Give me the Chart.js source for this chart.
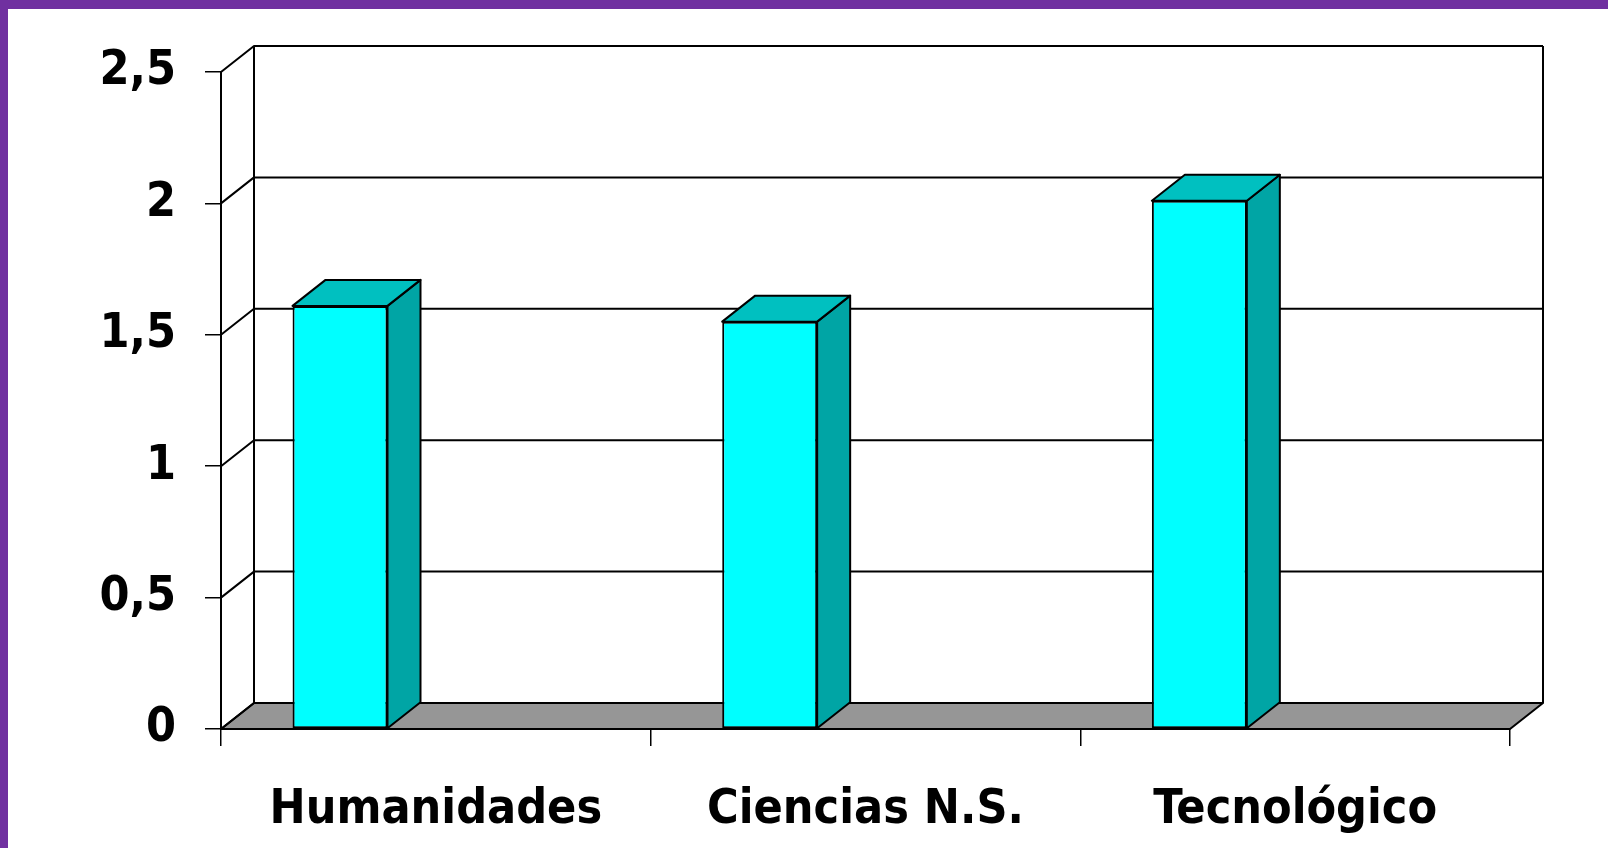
<!DOCTYPE html>
<html>
<head>
<meta charset="utf-8">
<script src="https://cdn.jsdelivr.net/npm/chart.js@4.4.0/dist/chart.umd.min.js"></script>
<style>
  html, body { margin: 0; padding: 0; background: #fff; }
  #frame {
    position: absolute; left: 0; top: 0; width: 1608px; height: 848px;
    box-sizing: border-box; background: #fff;
    border-left: 8px solid #7030a0; border-top: 9px solid #7030a0;
  }
  #chart { display: block; }
</style>
</head>
<body>
<div id="frame"><canvas id="chart" width="1600" height="839"></canvas></div>
<script>
var categories = ['Humanidades', 'Ciencias N.S.', 'Tecnológico'];
var values = [1.61, 1.55, 2.01];
var yTicks = [0, 0.5, 1, 1.5, 2, 2.5];

var colors = {
  front: '#00ffff',
  top: '#00c0c0',
  side: '#00a5a5',
  floor: '#969696',
  line: '#000000'
};
var depth = { x: 33, y: 26 };   // 3d offset of the back wall
var barShift = -0.223;          // bars sit left of the category centre (fraction of a category)

var chartFont = { family: "'DejaVu Sans Condensed', 'DejaVu Sans', sans-serif", size: 48, weight: 'bold' };

// back wall, left wall, floor and the top / side faces of the columns
var walls3d = {
  id: 'walls3d',
  beforeDatasetsDraw: function(chart) {
    var ctx = chart.ctx, a = chart.chartArea, ys = chart.scales.y, xs = chart.scales.x;
    var dx = depth.x, dy = depth.y;
    ctx.save();
    ctx.strokeStyle = colors.line;
    ctx.lineWidth = 2;
    ctx.lineJoin = 'round';

    ctx.beginPath();
    ctx.moveTo(a.left, a.bottom);
    ctx.lineTo(a.right, a.bottom);
    ctx.lineTo(a.right + dx, a.bottom - dy);
    ctx.lineTo(a.left + dx, a.bottom - dy);
    ctx.closePath();
    ctx.fillStyle = colors.floor;
    ctx.fill();
    ctx.stroke();

    yTicks.forEach(function(v) {
      var py = ys.getPixelForValue(v);
      ctx.beginPath();
      ctx.moveTo(a.left, py);
      ctx.lineTo(a.left + dx, py - dy);
      ctx.lineTo(a.right + dx, py - dy);
      ctx.stroke();
    });

    ctx.beginPath();
    ctx.moveTo(a.left + dx, ys.getPixelForValue(2.5) - dy);
    ctx.lineTo(a.left + dx, a.bottom - dy);
    ctx.moveTo(a.right + dx, ys.getPixelForValue(2.5) - dy);
    ctx.lineTo(a.right + dx, a.bottom - dy);
    ctx.stroke();
    ctx.restore();

    var shift = barShift * (xs.getPixelForValue(1) - xs.getPixelForValue(0));
    ctx.save();
    ctx.translate(shift, 0);
  },
  afterDatasetsDraw: function(chart) {
    var ctx = chart.ctx, dx = depth.x, dy = depth.y;
    ctx.strokeStyle = colors.line;
    ctx.lineWidth = 2;
    ctx.lineJoin = 'round';
    chart.getDatasetMeta(0).data.forEach(function(bar) {
      var l = bar.x - bar.width / 2, r = bar.x + bar.width / 2, t = bar.y, b = bar.base;
      ctx.beginPath();
      ctx.moveTo(r, t);
      ctx.lineTo(r + dx, t - dy);
      ctx.lineTo(r + dx, b - dy);
      ctx.lineTo(r, b);
      ctx.closePath();
      ctx.fillStyle = colors.side;
      ctx.fill();
      ctx.stroke();

      ctx.beginPath();
      ctx.moveTo(l, t);
      ctx.lineTo(l + dx, t - dy);
      ctx.lineTo(r + dx, t - dy);
      ctx.lineTo(r, t);
      ctx.closePath();
      ctx.fillStyle = colors.top;
      ctx.fill();
      ctx.stroke();
    });
    ctx.restore();
  }
};

new Chart(document.getElementById('chart'), {
  type: 'bar',
  data: {
    labels: categories,
    datasets: [{
      data: values,
      backgroundColor: colors.front,
      borderColor: colors.line,
      borderWidth: 2,
      borderSkipped: false,
      barPercentage: 0.221,
      categoryPercentage: 1,
      clip: false
    }]
  },
  options: {
    responsive: false,
    animation: false,
    layout: { padding: { top: 63, right: 98, left: 0, bottom: 0 } },
    plugins: {
      legend: { display: false },
      tooltip: { enabled: false }
    },
    scales: {
      x: {
        afterFit: function(scale) { scale.height = 119; },
        grid: { display: true, drawOnChartArea: false, drawTicks: true, tickLength: 17, color: '#000', lineWidth: 1.5, offset: true },
        border: { display: true, color: '#000', width: 2 },
        ticks: { font: chartFont, color: '#000', padding: 36, maxRotation: 0, autoSkip: false }
      },
      y: {
        min: 0,
        max: 2.5,
        afterFit: function(scale) { scale.width = 213; },
        grid: { display: true, drawOnChartArea: false, drawTicks: true, tickLength: 16, color: '#000', lineWidth: 1.5 },
        border: { display: true, color: '#000', width: 2 },
        ticks: {
          stepSize: 0.5,
          font: chartFont,
          color: '#000',
          padding: 29,
          callback: function(v) { return String(v).replace('.', ','); }
        }
      }
    }
  },
  plugins: [walls3d]
});
</script>
</body>
</html>
